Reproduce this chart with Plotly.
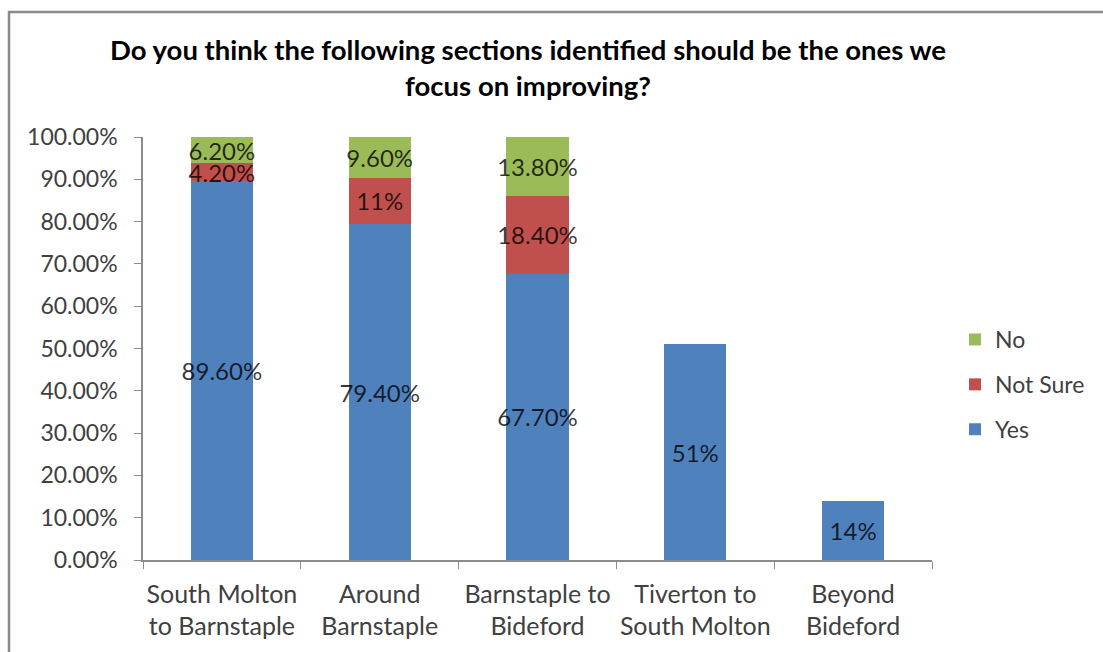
import plotly.graph_objects as go

categories = ["South Molton<br>to Barnstaple", "Around<br>Barnstaple", "Barnstaple to<br>Bideford",
              "Tiverton to<br>South Molton", "Beyond<br>Bideford"]
yes_vals = [89.6, 79.4, 67.7, 51.0, 14.0]
notsure_vals = [4.2, 11.0, 18.4, None, None]
no_vals = [6.2, 9.6, 13.8, None, None]
yes_labels = ["89.60%", "79.40%", "67.70%", "51%", "14%"]
notsure_labels = ["4.20%", "11%", "18.40%", "", ""]
no_labels = ["6.20%", "9.60%", "13.80%", "", ""]
y_ticks = [0, 10, 20, 30, 40, 50, 60, 70, 80, 90, 100]
y_ticktext = [f"{v:.2f}%" for v in y_ticks]

FONT = "Lato, 'Open Sans', sans-serif"
L, R, T, B = 143, 171, 137, 92
W, H = 1103, 652
pw, ph = W - L - R, H - T - B

fig = go.Figure()
series = [("Yes", yes_vals, yes_labels, "#4F81BD", 3),
          ("Not Sure", notsure_vals, notsure_labels, "#C0504D", 2),
          ("No", no_vals, no_labels, "#9BBB59", 1)]
for name, vals, labels, color, rank in series:
    fig.add_trace(go.Bar(
        x=categories, y=vals, name=name, text=labels,
        marker=dict(color=color, line=dict(width=0)),
        textposition="inside", insidetextanchor="middle", textangle=0,
        constraintext="none", cliponaxis=False,
        insidetextfont=dict(family=FONT, size=24, color="rgba(0,0,0,0.78)"),
        legendgroup=name, legendrank=rank,
    ))

def px_x(p):
    return (p - L) / pw

def px_y(p):
    return (H - B - p) / ph

fig.update_layout(
    width=W, height=H,
    margin=dict(l=L, r=R, t=T, b=B, autoexpand=False),
    barmode="stack", bargap=0.607,
    paper_bgcolor="white", plot_bgcolor="white",
    font=dict(family=FONT, color="#404040"),
    title=dict(
        text="<b>Do you think the following sections identified should be the ones we<br>focus on improving?</b>",
        x=px_x(528), xanchor="center", xref="paper",
        y=1 - 60 / H, yanchor="top",
        font=dict(family=FONT, size=27.5, color="#000000"),
    ),
    showlegend=True,
    legend=dict(
        x=px_x(955), xanchor="left", y=px_y(318), yanchor="top",
        traceorder="grouped", tracegroupgap=12,
        font=dict(family=FONT, size=23, color="#404040"),
        bgcolor="rgba(0,0,0,0)",
    ),
    xaxis=dict(
        showline=True, linecolor="#8c8c8c", linewidth=1.5,
        ticks="outside", ticklen=7, tickcolor="#8c8c8c", tickson="boundaries",
        ticklabelstandoff=11, tickangle=0, automargin=False,
        tickfont=dict(family=FONT, size=25, color="#404040"),
        showgrid=False, zeroline=False,
    ),
    yaxis=dict(
        range=[0, 100], tickvals=y_ticks, ticktext=y_ticktext,
        showline=True, linecolor="#8c8c8c", linewidth=1.5,
        ticks="outside", ticklen=7, tickcolor="#8c8c8c",
        ticklabelstandoff=12, automargin=False,
        tickfont=dict(family=FONT, size=23, color="#404040"),
        showgrid=False, zeroline=False,
    ),
    shapes=[dict(
        type="rect", xref="paper", yref="paper",
        x0=px_x(9), x1=px_x(1115), y0=px_y(670), y1=px_y(12),
        line=dict(color="#8a8a8a", width=2.5), fillcolor="rgba(0,0,0,0)", layer="below",
    )],
)

fig.write_html("out.html")
